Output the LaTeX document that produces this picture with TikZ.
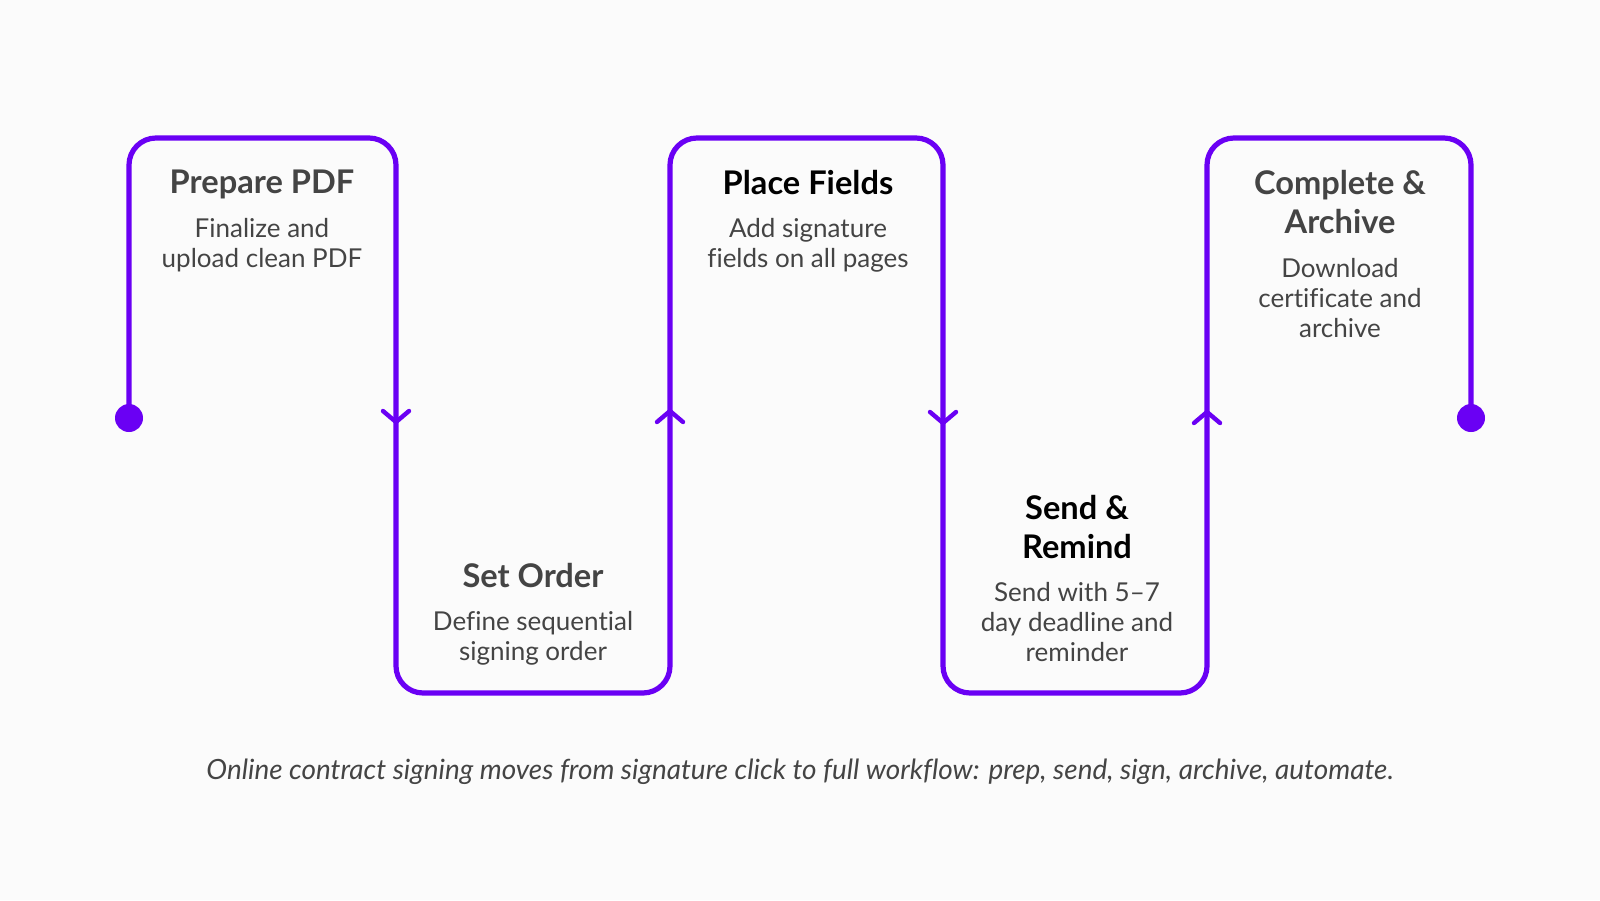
\documentclass[tikz,border=0pt]{standalone}
\usepackage{fontspec}
\setmainfont{Lato}[Ligatures=NoCommon]
\definecolor{pur}{RGB}{106,0,244}
\definecolor{txt}{RGB}{68,68,68}
\definecolor{bg}{RGB}{251,251,251}
\begin{document}
\begin{tikzpicture}[x=0.5pt,y=-0.5pt,
  flow/.style={draw=pur,line width=2.6pt,rounded corners=13.5pt,line join=round},
  chev/.style={draw=pur,line width=2.2pt,line cap=round,line join=round},
  ttl/.style={inner sep=0pt,align=center,font=\fontsize{16.3}{19.5}\selectfont\bfseries},
  bd/.style={inner sep=0pt,align=center,text=txt,font=\fontsize{13}{15}\selectfont},
  captxt/.style={inner sep=0pt,text=txt,font=\fontsize{13.95}{16}\selectfont\itshape}]
\fill[bg] (0,0) rectangle (1600,900);
\useasboundingbox (0,0) rectangle (1600,900);
% path corners
\coordinate (s) at (129,418);
\coordinate (c1) at (129,138);
\coordinate (c2) at (396,138);
\coordinate (c3) at (396,693);
\coordinate (c4) at (670,693);
\coordinate (c5) at (670,138);
\coordinate (c6) at (943,138);
\coordinate (c7) at (943,693);
\coordinate (c8) at (1207,693);
\coordinate (c9) at (1207,138);
\coordinate (c10) at (1471,138);
\coordinate (e) at (1471,418);
\draw[flow] (s) -- (c1) -- (c2) -- (c3) -- (c4) -- (c5) -- (c6) -- (c7) -- (c8) -- (c9) -- (c10) -- (e);
\fill[pur] (s) circle[radius=7pt];
\fill[pur] (e) circle[radius=7pt];
% chevrons
\coordinate (a1) at (396,422);
\coordinate (a2) at (670,411);
\coordinate (a3) at (943,423);
\coordinate (a4) at (1207,412);
\draw[chev] (a1) ++(-13,-11) -- (a1) -- ++(13,-11);
\draw[chev] (a2) ++(-13,11) -- (a2) -- ++(13,11);
\draw[chev] (a3) ++(-13,-11) -- (a3) -- ++(13,-11);
\draw[chev] (a4) ++(-13,11) -- (a4) -- ++(13,11);
% texts
\node[ttl,text=txt] (t1) at (262,184) {Prepare PDF};
\node[bd] (d1) at (262,245) {Finalize and\\upload clean PDF};
\node[ttl,text=txt] (t2) at (533,576) {Set Order};
\node[bd] (d2) at (533,638) {Define sequential\\signing order};
\node[ttl,text=black] (t3) at (808,183) {Place Fields};
\node[bd] (d3) at (808,245) {Add signature\\fields on all pages};
\node[ttl,text=black] (t4) at (1077,527) {Send \&\\Remind};
\node[bd] (d4) at (1077,622) {Send with 5–7\\day deadline and\\reminder};
\node[ttl,text=txt] (t5) at (1340,202) {Complete \&\\Archive};
\node[bd] (d5) at (1340,298) {Download\\certificate and\\archive};
\node[captxt] (cp) at (800,772) {Online contract signing moves from signature click to full workflow: prep, send, sign, archive, automate.};
\end{tikzpicture}
\end{document}
